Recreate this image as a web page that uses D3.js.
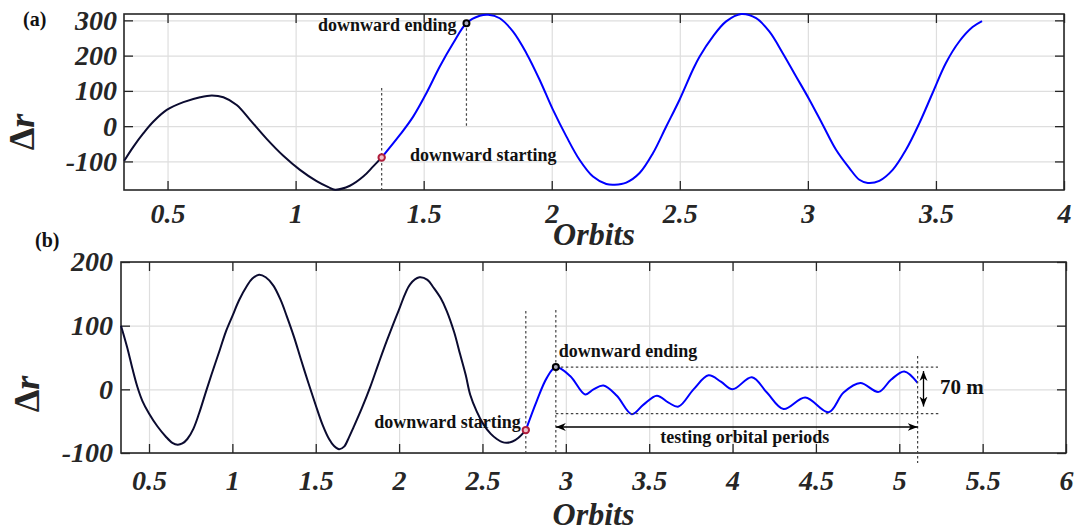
<!DOCTYPE html>
<html>
<head>
<meta charset="utf-8">
<script src="https://cdn.jsdelivr.net/npm/d3@7"></script>
<style>
  body { margin: 0; background: #fff; }
  text { font-family: "Liberation Serif", "Times New Roman", serif; }
</style>
</head>
<body>
<script>
// panel (a): orbit number vs. radial offset
var aOrbitsBefore = [0.331, 0.367, 0.406, 0.445, 0.497, 0.562, 0.627, 0.673, 0.718, 0.770, 0.822, 0.887, 0.952, 1.017,
                     1.082, 1.128, 1.154, 1.212, 1.264, 1.303, 1.336];
var aDeltaBefore  = [-98, -58, -20, 13, 46, 68, 82, 87, 82, 60, 18, -36, -84, -124,
                     -156, -173, -180, -169, -143, -114, -89];
var aOrbitsAfter = [1.336, 1.407, 1.459, 1.511, 1.563, 1.615, 1.667, 1.719, 1.752, 1.797, 1.849, 1.901, 1.953, 2.005,
                    2.057, 2.109, 2.161, 2.213, 2.246, 2.291, 2.343, 2.395, 2.447, 2.499, 2.551, 2.577, 2.629, 2.681,
                    2.740, 2.798, 2.850, 2.902, 2.954, 3.006, 3.058, 3.110, 3.162, 3.201, 3.234, 3.279, 3.331, 3.383,
                    3.435, 3.487, 3.539, 3.591, 3.643, 3.680];
var aDeltaAfter  = [-89, -25, 27, 94, 169, 235, 292, 313, 316, 306, 268, 207, 131, 46,
                    -29, -96, -143, -164, -166, -160, -133, -77, -1, 75, 160, 197, 254, 297,
                    318, 306, 268, 207, 141, 75, 4, -67, -119, -152, -161, -155, -124, -67,
                    8, 94, 179, 240, 281, 298];
var aXTicks = [0.5, 1, 1.5, 2, 2.5, 3, 3.5, 4];
var aYTicks = [-100, 0, 100, 200, 300];

// panel (b)
var bOrbitsBefore = [0.332, 0.37, 0.40, 0.43, 0.46, 0.50, 0.55, 0.60, 0.64, 0.672, 0.70, 0.73, 0.766, 0.80, 0.846, 0.886,
                     0.926, 0.96, 1.0, 1.04, 1.086, 1.12, 1.16, 1.20, 1.246, 1.29, 1.326, 1.37, 1.41, 1.456, 1.50, 1.54,
                     1.58, 1.61, 1.64, 1.67, 1.70, 1.726, 1.776, 1.826, 1.876, 1.926, 1.996, 2.066, 2.122, 2.17, 2.206,
                     2.25, 2.286, 2.33, 2.366, 2.40, 2.426, 2.466, 2.506, 2.55, 2.586, 2.62, 2.646, 2.68, 2.716, 2.76];
var bDeltaBefore  = [100, 65, 33, 4, -18, -38, -58, -74, -84, -87, -85, -78, -62, -38, 0, 32,
                     63, 90, 115, 140, 162, 174, 180, 176, 163, 140, 115, 82, 48, 10, -25, -55,
                     -78, -89, -94, -90, -75, -60, -30, 3, 40, 76, 123, 165, 176, 172, 160,
                     143, 123, 90, 55, 22, -8, -35, -55, -70, -78, -83, -84, -82, -76, -64];
var bOrbitsAfter = [2.76, 2.826, 2.886, 2.94, 3.026, 3.116, 3.166, 3.226, 3.306, 3.396, 3.466, 3.546, 3.616, 3.676, 3.766, 3.856,
                    3.93, 4.0, 4.116, 4.206, 4.306, 4.436, 4.576, 4.666, 4.766, 4.876, 4.95, 5.03, 5.11];
var bDeltaAfter  = [-64, -18, 18, 35, 21, -8, 0, 6, -10, -39, -24, -10, -21, -27, 0, 22,
                    12, 0, 19, -5, -31, -13, -36, -5, 10, -4, 15, 28, 10];
var bXTicks = [0.5, 1, 1.5, 2, 2.5, 3, 3.5, 4, 4.5, 5, 5.5, 6];
var bYTicks = [-100, 0, 100, 200];

var W = 1078, H = 531;
var ink = "#262626", navy = "#0b0b30", blue = "#0000ff", red = "#b01e3c";

var svg = d3.select("body").append("svg")
    .attr("width", W)
    .attr("height", H);

var defs = svg.append("defs");
defs.append("marker")
    .attr("id", "arr")
    .attr("viewBox", "0 0 10 10")
    .attr("refX", 10).attr("refY", 5)
    .attr("markerWidth", 10).attr("markerHeight", 10)
    .attr("markerUnits", "userSpaceOnUse")
    .attr("orient", "auto-start-reverse")
    .append("path")
    .attr("d", "M0,1 L10,5 L0,9 L3,5 Z")
    .attr("fill", "#000");

function panel(cfg) {
    var g = svg.append("g");
    var x = d3.scaleLinear().domain(cfg.xDomain).range([cfg.left, cfg.right]);
    var y = d3.scaleLinear().domain(cfg.yDomain).range([cfg.bottom, cfg.top]);
    var h = cfg.bottom - cfg.top, w = cfg.right - cfg.left;

    // grid
    g.append("g")
        .attr("transform", "translate(0," + cfg.bottom + ")")
        .call(d3.axisBottom(x).tickValues(cfg.xTicks).tickSize(-h).tickFormat(""))
        .call(function(s) { s.select(".domain").remove(); })
        .selectAll("line").attr("stroke", "#dedede").attr("stroke-width", 1.2);
    g.append("g")
        .attr("transform", "translate(" + cfg.left + ",0)")
        .call(d3.axisLeft(y).tickValues(cfg.yTicks).tickSize(-w).tickFormat(""))
        .call(function(s) { s.select(".domain").remove(); })
        .selectAll("line").attr("stroke", "#dedede").attr("stroke-width", 1.2);

    // axes with inward ticks
    var fmt = function(d) { return String(d); };
    var xa = g.append("g")
        .attr("transform", "translate(0," + cfg.bottom + ")")
        .call(d3.axisBottom(x).tickValues(cfg.xTicks).tickSize(-9).tickPadding(cfg.xPad).tickFormat(fmt));
    var ya = g.append("g")
        .attr("transform", "translate(" + cfg.left + ",0)")
        .call(d3.axisLeft(y).tickValues(cfg.yTicks).tickSize(-9).tickPadding(cfg.yPad).tickFormat(fmt));
    var xt = g.append("g")
        .attr("transform", "translate(0," + cfg.top + ")")
        .call(d3.axisTop(x).tickValues(cfg.xTicks).tickSize(-9).tickFormat(""));
    var yr = g.append("g")
        .attr("transform", "translate(" + cfg.right + ",0)")
        .call(d3.axisRight(y).tickValues(cfg.yTicks).tickSize(-9).tickFormat(""));
    [xa, ya, xt, yr].forEach(function(a) {
        a.select(".domain").remove();
        a.selectAll("line").attr("stroke", ink).attr("stroke-width", 1.3);
        a.selectAll("text")
            .attr("fill", ink)
            .style("font-family", "'Liberation Serif', serif")
            .style("font-size", "28px")
            .style("font-weight", "bold")
            .style("font-style", "italic");
    });
    g.append("rect")
        .attr("x", cfg.left).attr("y", cfg.top)
        .attr("width", w).attr("height", h)
        .attr("fill", "none").attr("stroke", ink).attr("stroke-width", 1.6);

    // axis titles
    g.append("text")
        .attr("x", (cfg.left + cfg.right) / 2)
        .attr("y", cfg.xTitleY)
        .attr("text-anchor", "middle")
        .attr("fill", ink)
        .style("font-size", "32px").style("font-weight", "bold").style("font-style", "italic")
        .text("Orbits");
    var yt = g.append("text")
        .attr("transform", "translate(" + cfg.yTitleX + "," + cfg.yTitleY + ") rotate(-90)")
        .attr("text-anchor", "middle")
        .attr("fill", ink)
        .style("font-size", "36px").style("font-weight", "bold");
    yt.append("tspan").text("\u0394");
    yt.append("tspan").style("font-style", "italic").text("r");

    g.append("text")
        .attr("x", cfg.tagX).attr("y", cfg.tagY)
        .attr("fill", "#111")
        .style("font-size", "20px").style("font-weight", "bold")
        .text(cfg.tag);

    var line = d3.line()
        .x(function(d) { return x(d[0]); })
        .y(function(d) { return y(d[1]); })
        .curve(d3.curveCatmullRom.alpha(0.5));

    g.append("path")
        .datum(d3.zip(cfg.beforeX, cfg.beforeY))
        .attr("d", line)
        .attr("fill", "none").attr("stroke", navy).attr("stroke-width", 2);
    g.append("path")
        .datum(d3.zip(cfg.afterX, cfg.afterY))
        .attr("d", line)
        .attr("fill", "none").attr("stroke", blue).attr("stroke-width", 2);

    return { g: g, x: x, y: y };
}

function dash(g, x1, y1, x2, y2, dashes) {
    g.append("line")
        .attr("x1", x1).attr("y1", y1).attr("x2", x2).attr("y2", y2)
        .attr("stroke", "#444").attr("stroke-width", 1.2)
        .attr("stroke-dasharray", dashes || "2.5,2.5");
}

function label(g, x, y, txt, anchor, size) {
    g.append("text")
        .attr("x", x).attr("y", y)
        .attr("text-anchor", anchor || "start")
        .attr("fill", "#111")
        .style("font-size", (size || 18) + "px").style("font-weight", "bold")
        .text(txt);
}

function dots(p, sx, sy, ex, ey) {
    p.g.append("circle")
        .attr("cx", p.x(sx)).attr("cy", p.y(sy)).attr("r", 3.2)
        .attr("fill", "#f2c0c8").attr("stroke", red).attr("stroke-width", 2);
    p.g.append("circle")
        .attr("cx", p.x(ex)).attr("cy", p.y(ey)).attr("r", 3)
        .attr("fill", "#aab").attr("stroke", "#000").attr("stroke-width", 2);
}

// ---- panel (a)
var pa = panel({
    left: 124, right: 1064, top: 14, bottom: 190,
    xDomain: [0.33, 4], yDomain: [-181, 318],
    xTicks: aXTicks, yTicks: aYTicks, xPad: 13, yPad: 7,
    xTitleY: 245, yTitleX: 34, yTitleY: 132, tag: "(a)", tagX: 23, tagY: 26,
    beforeX: aOrbitsBefore, beforeY: aDeltaBefore, afterX: aOrbitsAfter, afterY: aDeltaAfter
});
var aStart = aOrbitsAfter[0], aEnd = aOrbitsAfter[6];
dash(pa.g, pa.x(aStart), pa.y(108), pa.x(aStart), pa.y(-181));
dash(pa.g, pa.x(aEnd), pa.y(aDeltaAfter[6]), pa.x(aEnd), pa.y(0));
dots(pa, aStart, aDeltaAfter[0], aEnd, aDeltaAfter[6]);
label(pa.g, pa.x(aEnd) - 10, 31, "downward ending", "end");
label(pa.g, 410, 161, "downward starting");

// ---- panel (b)
var pb = panel({
    left: 121, right: 1066, top: 262, bottom: 453,
    xDomain: [0.332, 6], yDomain: [-100, 200],
    xTicks: bXTicks, yTicks: bYTicks, xPad: 17, yPad: 8,
    xTitleY: 525, yTitleX: 39, yTitleY: 394, tag: "(b)", tagX: 35, tagY: 247,
    beforeX: bOrbitsBefore, beforeY: bDeltaBefore, afterX: bOrbitsAfter, afterY: bDeltaAfter
});
var bStart = bOrbitsAfter[0], bEnd = bOrbitsAfter[3], bLast = bOrbitsAfter[bOrbitsAfter.length - 1];
var bHi = 35, bLo = -38;
dash(pb.g, pb.x(bStart), 311, pb.x(bStart), 453);
dash(pb.g, pb.x(bEnd), 310, pb.x(bEnd), 453);
dash(pb.g, pb.x(bEnd), pb.y(bHi), 938, pb.y(bHi));
dash(pb.g, pb.x(bEnd), pb.y(bLo), 940, pb.y(bLo));
dash(pb.g, pb.x(bLast), 356, pb.x(bLast), 463);
dots(pb, bStart, bDeltaAfter[0], bEnd, bDeltaAfter[3]);

pb.g.append("line")
    .attr("x1", pb.x(bEnd)).attr("y1", 427).attr("x2", pb.x(bLast)).attr("y2", 427)
    .attr("stroke", "#000").attr("stroke-width", 1.3)
    .attr("marker-start", "url(#arr)").attr("marker-end", "url(#arr)");
pb.g.append("line")
    .attr("x1", 923.5).attr("y1", pb.y(bHi) + 4).attr("x2", 923.5).attr("y2", pb.y(bLo) - 7)
    .attr("stroke", "#000").attr("stroke-width", 1.3)
    .attr("marker-start", "url(#arr)").attr("marker-end", "url(#arr)");

label(pb.g, pb.x(bEnd) + 3, 357, "downward ending");
label(pb.g, pb.x(bStart) - 5, 428, "downward starting", "end");
label(pb.g, (pb.x(bEnd) + pb.x(bLast)) / 2 + 8, 443, "testing orbital periods", "middle");
label(pb.g, 940, 394, "70 m", "start", 21);
</script>
</body>
</html>
